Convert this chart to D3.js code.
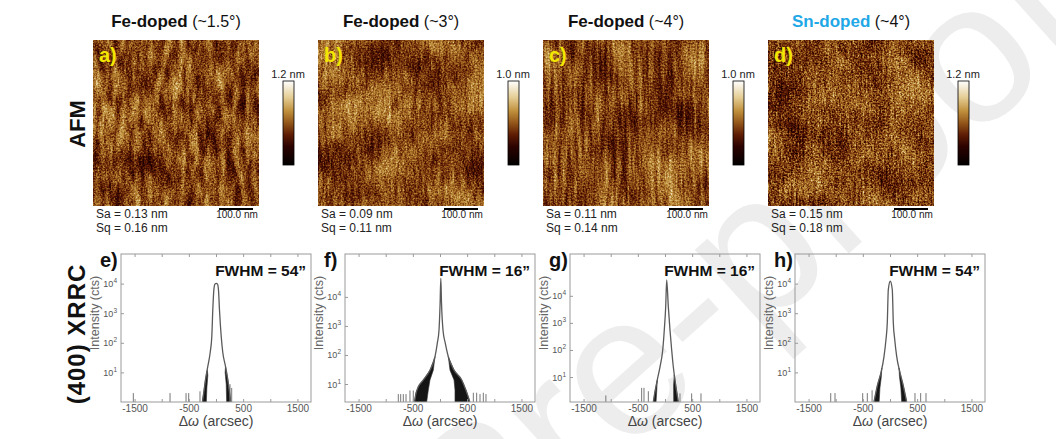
<!DOCTYPE html>
<html>
<head>
<meta charset="utf-8">
<script src="https://cdn.jsdelivr.net/npm/d3@7/dist/d3.min.js"></script>
<style>
  body { margin: 0; background: #fff; }
  text { font-family: "Liberation Sans", Arial, sans-serif; }
</style>
</head>
<body>
<div id="fig"></div>
<script>
// ---- AFM row ----
var afmDopant = ['Fe-doped', 'Fe-doped', 'Fe-doped', 'Sn-doped']
var afmMiscut = ['(~1.5°)', '(~3°)', '(~4°)', '(~4°)']
var afmLetters = ['a)', 'b)', 'c)', 'd)']
var afmRange = ['1.2 nm', '1.0 nm', '1.0 nm', '1.2 nm']
var afmSa = ['0.13', '0.09', '0.11', '0.15']
var afmSq = ['0.16', '0.11', '0.14', '0.18']
var scaleBarLabel = '100.0 nm'

// height colour map, 0 = lowest, 1 = highest
var cmapPos = [0, 0.22, 0.36, 0.5, 0.64, 0.8, 1]
var cmapCol = ['#000000', '#2c0300', '#5e1c04', '#93561a', '#bf8f3c', '#e4cc92', '#ffffff']

// ---- XRRC row ----
var xrcLetters = ['e)', 'f)', 'g)', 'h)']
var xrcFwhm = ['54', '16', '16', '54']
var xrcYDomain = [[1, 1e5], [2.4, 3e5], [1.2, 3.5e5], [1, 1e5]]
var xDomain = [-1750, 1750]
var xTicks = [-1500, -1000, -500, 0, 500, 1000, 1500]
var xTickLabels = [-1500, -500, 500, 1500]
var yTicks = [10, 100, 1000, 10000]

// peak envelope, [arcsec, counts]
var peakE = [[-250, 1.0], [-225, 2.1], [-193, 5.8], [-151, 16], [-107, 47], [-77, 166], [-59, 1300], [-40, 6000], [-20, 9600], [5, 10200],
  [28, 9600], [46, 6000], [64, 1300], [96, 166], [125, 47], [175, 16], [217, 5.8], [249, 2.1], [270, 1.0]]
var peakF = [[-470, 2.4], [-442, 4.8], [-400, 8], [-307, 13.8], [-184, 30], [-92, 87], [-50, 251], [-18, 724], [2, 6000], [15, 44000],
  [28, 6000], [55, 724], [98, 251], [153, 87], [258, 30], [400, 13.8], [480, 6], [550, 2.4]]
var peakG = [[-215, 1.2], [-184, 2.9], [-142, 7.8], [-92, 24], [-42, 100], [-13, 550], [13, 4000], [31, 39000],
  [61, 4000], [92, 550], [123, 100], [153, 24], [184, 7.8], [215, 2.9], [245, 1.2]]
var peakH = [[-295, 1.0], [-234, 3.5], [-166, 9.8], [-110, 35], [-74, 129], [-50, 479], [-31, 6300], [5, 12000],
  [42, 6300], [61, 479], [87, 129], [123, 35], [184, 9.8], [245, 3.5], [307, 1.0]]

// noisy low-count tails (outline of the dark band), [arcsec, counts]
var tailsE = [
  [[-160, 12], [-193, 5.8], [-225, 2.1], [-252, 1], [-178, 1], [-168, 3], [-150, 8]],
  [[175, 16], [217, 5.8], [249, 2.1], [272, 1], [196, 1], [188, 4], [168, 10]]]
var tailsF = [
  [[-92, 87], [-184, 30], [-307, 13.8], [-400, 8], [-442, 4.8], [-470, 2.4], [-245, 2.4], [-215, 6.2], [-184, 13.8], [-123, 30]],
  [[153, 87], [258, 30], [400, 13.8], [480, 6], [550, 2.4], [276, 2.4], [276, 6.2], [258, 13.8], [184, 30]]]
var tailsG = [
  [[-142, 7.8], [-184, 2.9], [-215, 1.2], [-165, 1.2], [-150, 3.5]],
  [[170, 12], [215, 2.9], [245, 1.2], [160, 1.2], [158, 5]]]
var tailsH = [
  [[-150, 14], [-166, 9.8], [-234, 3.5], [-295, 1], [-200, 1], [-185, 3], [-160, 7]],
  [[165, 14], [184, 9.8], [245, 3.5], [307, 1], [215, 1], [200, 3], [175, 7]]]

// isolated single-count events, [arcsec, counts]
var spikesE = [[-1523, 2], [-847, 2], [-552, 2], [-503, 2], [-295, 2.3], [258, 4], [289, 3]]
var spikesF = [[-768, 4.5], [-724, 4.5], [-676, 4.5], [-626, 4.5], [-553, 6], [-492, 6], [614, 5], [675, 5], [737, 4.5], [798, 5], [847, 4.5]]
var spikesG = [[-1090, 2.1], [-430, 4], [-387, 4], [-307, 3], [276, 2.5], [491, 2.5], [663, 2.5]]
var spikesH = [[-1092, 2], [-1013, 2], [-503, 2], [-418, 2], [-330, 2.5], [460, 2], [565, 2], [663, 2]]

var peaks = [peakE, peakF, peakG, peakH]
var tails = [tailsE, tailsF, tailsG, tailsH]
var spikes = [spikesE, spikesF, spikesG, spikesH]

// ---- layout / style ----
var W = 1056, H = 439
var imgLeft = [93, 318, 543, 768], imgTop = 40, imgSize = 166
var plotLeft = [121, 345, 570, 795], plotTop = 254, plotW = 190, plotH = 148
var snBlue = '#1fa8e6'
// surface texture per scan: domains, step terraces, fine grain
var afmTexture = [
  { seed: 2, big: '0.03 0.02', stripe: '0.15 0.035', grain: '0.6', w: [0.3, 0.7, 0.4], gain: 1.45, mid: 0.465 },
  { seed: 11, big: '0.022 0.022', stripe: '0.3 0.04', grain: '0.6', w: [0.6, 0.4, 0.4], gain: 1.45, mid: 0.47 },
  { seed: 21, big: '0.02 0.02', stripe: '0.26 0.02', grain: '0.6', w: [0.5, 0.5, 0.35], gain: 1.5, mid: 0.465 },
  { seed: 31, big: '0.025 0.025', stripe: '0.35 0.06', grain: '0.6', w: [0.6, 0.4, 0.5], gain: 1.55, mid: 0.46 }
]

var svg = d3.select('#fig').append('svg').attr('width', W).attr('height', H)
svg.append('rect').attr('width', W).attr('height', H).attr('fill', '#fff')
var defs = svg.append('defs')

// journal watermark, behind the scans
svg.append('text').attr('transform', 'translate(475,590) rotate(-42)')
  .attr('font-size', 200).attr('fill', '#c4c4c4').attr('opacity', 0.3).text('Pre-proof')

var cmap = d3.scaleLinear().domain(cmapPos).range(cmapCol).interpolate(d3.interpolateRgb)
var tableSteps = d3.range(0, 1.0001, 1 / 20)
function channel(c) {
  return tableSteps.map(function(t) { return (d3.rgb(cmap(t))[c] / 255).toFixed(3) }).join(' ')
}

var grad = defs.append('linearGradient').attr('id', 'cbar').attr('x1', 0).attr('y1', 1).attr('x2', 0).attr('y2', 0)
grad.selectAll('stop').data(cmapPos).enter().append('stop')
  .attr('offset', function(d) { return d })
  .attr('stop-color', function(d, i) { return cmapCol[i] })

var gray = '1 0 0 0 0  1 0 0 0 0  1 0 0 0 0  0 0 0 0 1'
afmTexture.forEach(function(t, i) {
  var f = defs.append('filter').attr('id', 'afm' + i)
    .attr('x', 0).attr('y', 0).attr('width', 1).attr('height', 1)
    .attr('color-interpolation-filters', 'sRGB')
  f.append('feTurbulence').attr('type', 'fractalNoise').attr('baseFrequency', t.big).attr('numOctaves', 3).attr('seed', t.seed).attr('result', 'n1')
  f.append('feColorMatrix').attr('in', 'n1').attr('type', 'matrix').attr('values', gray).attr('result', 'big')
  f.append('feTurbulence').attr('type', 'fractalNoise').attr('baseFrequency', t.stripe).attr('numOctaves', 3).attr('seed', t.seed + 1).attr('result', 'n2')
  f.append('feColorMatrix').attr('in', 'n2').attr('type', 'matrix').attr('values', gray).attr('result', 'stripe')
  f.append('feTurbulence').attr('type', 'fractalNoise').attr('baseFrequency', t.grain).attr('numOctaves', 2).attr('seed', t.seed + 2).attr('result', 'n3')
  f.append('feColorMatrix').attr('in', 'n3').attr('type', 'matrix').attr('values', gray).attr('result', 'grain')
  f.append('feComposite').attr('in', 'big').attr('in2', 'stripe').attr('operator', 'arithmetic')
    .attr('k1', 0).attr('k2', t.w[0]).attr('k3', t.w[1]).attr('k4', 0).attr('result', 'm1')
  f.append('feComposite').attr('in', 'm1').attr('in2', 'grain').attr('operator', 'arithmetic')
    .attr('k1', 0).attr('k2', 1 - t.w[2]).attr('k3', t.w[2]).attr('k4', 0).attr('result', 'm2')
  var ct = f.append('feComponentTransfer').attr('in', 'm2').attr('result', 'm3')
  ;['feFuncR', 'feFuncG', 'feFuncB'].forEach(function(fn) {
    ct.append(fn).attr('type', 'linear').attr('slope', t.gain).attr('intercept', t.mid - 0.5 * t.gain)
  })
  var ct2 = f.append('feComponentTransfer').attr('in', 'm3')
  ct2.append('feFuncR').attr('type', 'table').attr('tableValues', channel('r'))
  ct2.append('feFuncG').attr('type', 'table').attr('tableValues', channel('g'))
  ct2.append('feFuncB').attr('type', 'table').attr('tableValues', channel('b'))
})

// ---- AFM panels ----
afmDopant.forEach(function(name, i) {
  var g = svg.append('g').attr('transform', 'translate(' + imgLeft[i] + ',' + imgTop + ')')

  var title = g.append('text').attr('x', imgSize / 2).attr('y', -13).attr('text-anchor', 'middle')
  title.append('tspan').attr('font-weight', 'bold').attr('font-size', 17)
    .attr('fill', name.indexOf('Sn') === 0 ? snBlue : '#111').text(name)
  title.append('tspan').attr('font-size', 16).attr('fill', '#111').text(' ' + afmMiscut[i])

  g.append('rect').attr('width', imgSize).attr('height', imgSize).attr('fill', '#9a6420')
    .attr('filter', 'url(#afm' + i + ')')

  g.append('text').attr('x', 6).attr('y', 22).attr('font-size', 20).attr('font-weight', 'bold')
    .attr('fill', '#f3e600').text(afmLetters[i])

  // colour bar
  var cb = g.append('g').attr('transform', 'translate(190,41)')
  cb.append('rect').attr('width', 11).attr('height', 84).attr('fill', 'url(#cbar)')
    .attr('stroke', '#000').attr('stroke-width', 0.8)
  cb.append('text').attr('x', 5).attr('y', -3).attr('text-anchor', 'middle').attr('font-size', 11)
    .attr('fill', '#222').text(afmRange[i])

  // roughness and scale bar
  g.append('text').attr('x', 3).attr('y', imgSize + 12).attr('font-size', 12).attr('fill', '#222')
    .text('Sa = ' + afmSa[i] + ' nm')
  g.append('text').attr('x', 3).attr('y', imgSize + 26).attr('font-size', 12).attr('fill', '#222')
    .text('Sq = ' + afmSq[i] + ' nm')
  g.append('line').attr('x1', imgSize - 40).attr('x2', imgSize - 6).attr('y1', imgSize + 3).attr('y2', imgSize + 3)
    .attr('stroke', '#000').attr('stroke-width', 2)
  g.append('text').attr('x', imgSize - 22).attr('y', imgSize + 12).attr('text-anchor', 'middle')
    .attr('font-size', 10).attr('fill', '#222').text(scaleBarLabel)
})

// ---- XRRC panels ----
var x = d3.scaleLinear().domain(xDomain).range([0, plotW])

xrcLetters.forEach(function(letter, i) {
  var y = d3.scaleLog().domain(xrcYDomain[i]).range([plotH, 0])
  var g = svg.append('g').attr('transform', 'translate(' + plotLeft[i] + ',' + plotTop + ')')

  defs.append('clipPath').attr('id', 'clip' + i).append('rect').attr('width', plotW).attr('height', plotH)
  var plot = g.append('g').attr('clip-path', 'url(#clip' + i + ')')

  var poly = d3.line().x(function(d) { return x(d[0]) }).y(function(d) { return y(Math.max(d[1], xrcYDomain[i][0])) })
  plot.selectAll('path.tail').data(tails[i]).enter().append('path').attr('class', 'tail')
    .attr('d', function(d) { return poly(d) + 'Z' })
    .attr('fill', '#151515').attr('stroke', '#333').attr('stroke-width', 0.6)

  plot.selectAll('line.spike').data(spikes[i]).enter().append('line').attr('class', 'spike')
    .attr('x1', function(d) { return x(d[0]) }).attr('x2', function(d) { return x(d[0]) })
    .attr('y1', plotH).attr('y2', function(d) { return y(d[1]) })
    .attr('stroke', '#777').attr('stroke-width', 1)

  var line = d3.line().x(function(d) { return x(d[0]) }).y(function(d) { return y(d[1]) }).curve(d3.curveMonotoneX)
  plot.append('path').attr('d', line(peaks[i])).attr('fill', 'none')
    .attr('stroke', '#5a5a5a').attr('stroke-width', 1.3)

  // frame and ticks
  g.append('rect').attr('width', plotW).attr('height', plotH).attr('fill', 'none')
    .attr('stroke', '#9a9a9a').attr('stroke-width', 1)

  var ax = g.append('g').attr('transform', 'translate(0,' + plotH + ')')
    .call(d3.axisBottom(x).tickValues(xTicks).tickSizeInner(-3).tickSizeOuter(0).tickPadding(3)
      .tickFormat(function(d) { return xTickLabels.indexOf(d) >= 0 ? d : '' }))
  ax.select('.domain').remove()
  ax.selectAll('line').attr('stroke', '#9a9a9a')
  ax.selectAll('text').attr('font-size', 10).attr('fill', '#555').attr('font-family', '"Liberation Sans", Arial, sans-serif')

  var axTop = g.append('g').call(d3.axisTop(x).tickValues(xTicks).tickSizeInner(-3).tickSizeOuter(0).tickFormat(''))
  axTop.select('.domain').remove()
  axTop.selectAll('line').attr('stroke', '#9a9a9a')

  var ay = g.append('g').call(d3.axisLeft(y).tickValues(yTicks).tickSizeInner(-3).tickSizeOuter(0).tickFormat(''))
  ay.select('.domain').remove()
  ay.selectAll('line').attr('stroke', '#9a9a9a')
  g.selectAll('text.ylab').data(yTicks).enter().append('text').attr('class', 'ylab')
    .attr('x', -4).attr('y', function(d) { return y(d) + 3.5 }).attr('text-anchor', 'end')
    .attr('font-size', 9).attr('fill', '#555')
    .each(function(d) {
      var t = d3.select(this)
      t.append('tspan').text('10')
      t.append('tspan').attr('dy', -4).attr('font-size', 6.5).text(Math.round(Math.log10(d)))
    })

  g.append('text').attr('transform', 'translate(-22,' + (plotH / 2 - 15) + ') rotate(-90)')
    .attr('text-anchor', 'middle').attr('font-size', 12.5).attr('fill', '#666').text('Intensity (cts)')

  var xl = g.append('text').attr('x', plotW / 2).attr('y', plotH + 24).attr('text-anchor', 'middle')
    .attr('font-size', 14).attr('fill', '#444')
  xl.append('tspan').text('Δ')
  xl.append('tspan').attr('font-style', 'italic').text('ω')
  xl.append('tspan').text(' (arcsec)')

  g.append('text').attr('x', plotW - 5).attr('y', 22).attr('text-anchor', 'end')
    .attr('font-size', 15.5).attr('font-weight', 'bold').attr('fill', '#111')
    .text('FWHM = ' + xrcFwhm[i] + '\u201D')

  g.append('text').attr('x', -21).attr('y', 13).attr('font-size', 20).attr('font-weight', 'bold')
    .attr('fill', '#111').text(letter)
})

// row labels
svg.append('text').attr('transform', 'translate(85,124) rotate(-90)').attr('text-anchor', 'middle')
  .attr('font-size', 22).attr('font-weight', 'bold').attr('fill', '#111').text('AFM')
svg.append('text').attr('transform', 'translate(85,334) rotate(-90)').attr('text-anchor', 'middle')
  .attr('font-size', 24).attr('font-weight', 'bold').attr('letter-spacing', 1).attr('fill', '#111').text('(400) XRRC')
</script>
</body>
</html>
